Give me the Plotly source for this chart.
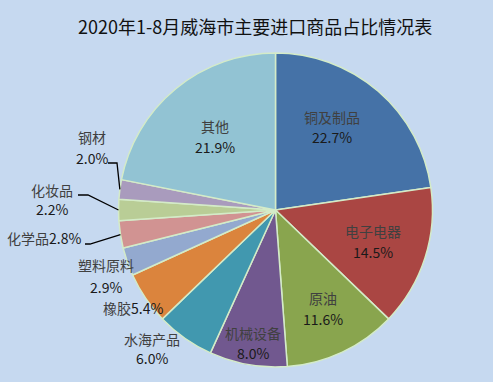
import math
import plotly.graph_objects as go

# ---- data ----
categories = ["铜及制品", "电子电器", "原油", "机械设备", "水海产品", "橡胶",
              "塑料原料", "化学品", "化妆品", "钢材", "其他"]
shares = [22.7, 14.5, 11.6, 8.0, 6.0, 5.4, 2.9, 2.8, 2.2, 2.0, 21.9]
title_text = "2020年1-8月威海市主要进口商品占比情况表"

colors = ["#4572A7", "#AA4643", "#89A54E", "#71588F", "#4198AF", "#DB843D",
          "#93A9CF", "#D19392", "#B9CD96", "#A99BBD", "#92C3D3"]

W, H = 493, 382
CX, CY, R = 275.5, 210.0, 157.0
FONT = "Noto Sans CJK SC"


def px(x):
    return x / W


def py(y):
    return 1 - y / H


fig = go.Figure(go.Pie(
    labels=categories,
    values=shares,
    sort=False,
    direction="clockwise",
    rotation=0,
    textinfo="none",
    hoverinfo="label+percent",
    marker=dict(colors=colors, line=dict(color="#D4EBC8", width=1.5)),
    domain=dict(x=[px(CX - R), px(CX + R)], y=[(H - CY - R) / H, (H - CY + R) / H]),
    showlegend=False,
))

# label placement (pixel centres of the two text lines, or single line)
label_pos = {
    "铜及制品": (332, 117, 137),
    "电子电器": (373, 231, 252),
    "原油": (323, 298, 319),
    "机械设备": (253, 333, 353),
    "水海产品": (152, 339, 358),
    "塑料原料": (106, 265, 287),
    "化妆品": (52, 190, 209),
    "钢材": (92, 137, 158),
    "其他": (215, 126, 147),
}
single_pos = {
    "橡胶": (133, 308),
    "化学品": (44, 238),
}

common = dict(xref="paper", yref="paper", showarrow=False, xanchor="center", yanchor="middle")
annotations = []
for name, val in zip(categories, shares):
    pct = f"{val:.1f}%"
    if name in label_pos:
        x, y1, y2 = label_pos[name]
        annotations.append(dict(x=px(x), y=py(y1), text=name,
                                font=dict(family=FONT, size=14, color="#404040"), **common))
        annotations.append(dict(x=px(x), y=py(y2), text=pct,
                                font=dict(family=FONT, size=14, color="#1a1a1a"), **common))
    else:
        x, y = single_pos[name]
        annotations.append(dict(x=px(x), y=py(y),
                                text=f"<span style='color:#404040'>{name}</span>{pct}",
                                font=dict(family=FONT, size=14, color="#1a1a1a"), **common))

annotations.append(dict(x=px(W / 2 + 8), y=py(26), text=title_text,
                        font=dict(family=FONT, size=18, color="#111111"), **common))

# leader lines: from label to slice edge at the slice's mid angle
leader_start = {
    "钢材": (108, 163, 117),
    "化妆品": (78, 195, 88),
    "化学品": (85, 244, 90),
}
shapes = []
cum = 0.0
total = sum(shares)
for name, val in zip(categories, shares):
    mid = (cum + val / 2) / total * 2 * math.pi
    cum += val
    if name in leader_start:
        x0, y0, xb = leader_start[name]
        ex = CX + R * math.sin(mid)
        ey = CY - R * math.cos(mid)
        path = f"M {px(x0)},{py(y0)} L {px(xb)},{py(y0)} L {px(ex)},{py(ey)}"
        shapes.append(dict(type="path", xref="paper", yref="paper", path=path,
                           line=dict(color="#000000", width=1.3)))

fig.update_layout(
    width=W, height=H,
    margin=dict(l=0, r=0, t=0, b=0),
    paper_bgcolor="#C6D9F0",
    plot_bgcolor="#C6D9F0",
    annotations=annotations,
    shapes=shapes,
)

fig.write_html("out.html", config={"displayModeBar": False},
               post_script="document.body.style.margin='0';document.body.style.overflow='hidden';")
